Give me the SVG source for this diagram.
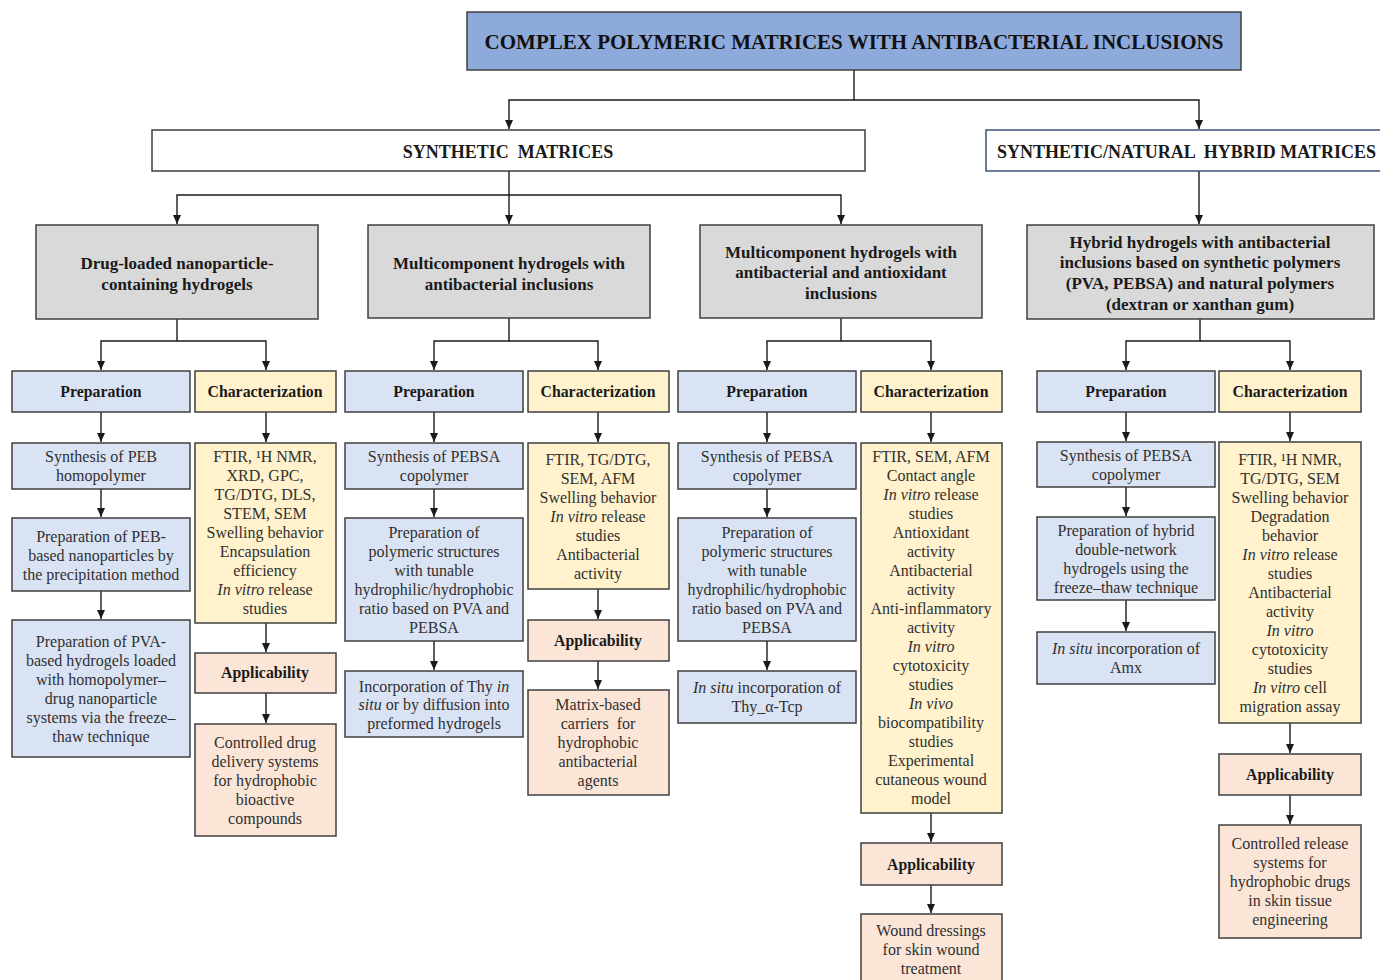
<svg xmlns="http://www.w3.org/2000/svg" width="1380" height="980" viewBox="0 0 1380 980">
<style>
.bx{stroke:#3f3f3f;stroke-width:1.5}
.ti{fill:#8eaadb}
.wh{fill:#ffffff}
.gr{fill:#d9d9d9}
.pr{fill:#dae3f3}
.ch{fill:#fff2cc}
.ap{fill:#fbe5d6}
text{font-family:"Liberation Serif","Times New Roman",serif;text-anchor:middle}
.t{font-size:16px;fill:#303030}
.b{font-size:15.8px;font-weight:bold;fill:#1a1a1a}
.h{font-size:17px;font-weight:bold;fill:#1a1a1a}
.m{font-size:18px;font-weight:bold;fill:#1a1a1a}
.tt{font-size:21px;font-weight:bold;fill:#111}
.i{font-style:italic}
.c{fill:none;stroke:#1a1a1a;stroke-width:1.4}
</style>
<defs>
<marker id="ar" markerUnits="userSpaceOnUse" markerWidth="10" markerHeight="10" refX="9" refY="5" orient="auto">
<path d="M0,1 L9,5 L0,9 z" fill="#1a1a1a"/>
</marker>
</defs>
<rect width="1380" height="980" fill="#ffffff"/>

<g id="connectors">
<path class="c" d="M854,70 V100 H509 V129" marker-end="url(#ar)"/>
<path class="c" d="M854,100 H1199 V129" marker-end="url(#ar)"/>
<path class="c" d="M509,171 V224" marker-end="url(#ar)"/>
<path class="c" d="M509,195 H177 V224" marker-end="url(#ar)"/>
<path class="c" d="M509,195 H841 V224" marker-end="url(#ar)"/>
<path class="c" d="M1199,171 V224" marker-end="url(#ar)"/>

<path class="c" d="M177,319 V341 H101 V370" marker-end="url(#ar)"/>
<path class="c" d="M177,341 H266 V370" marker-end="url(#ar)"/>
<path class="c" d="M509,318 V341 H434 V370" marker-end="url(#ar)"/>
<path class="c" d="M509,341 H598 V370" marker-end="url(#ar)"/>
<path class="c" d="M841,318 V341 H767 V370" marker-end="url(#ar)"/>
<path class="c" d="M841,341 H931 V370" marker-end="url(#ar)"/>
<path class="c" d="M1200,319 V341 H1126 V370" marker-end="url(#ar)"/>
<path class="c" d="M1200,341 H1290 V370" marker-end="url(#ar)"/>

<path class="c" d="M101,412 V442" marker-end="url(#ar)"/>
<path class="c" d="M101,489 V517" marker-end="url(#ar)"/>
<path class="c" d="M101,591 V619" marker-end="url(#ar)"/>
<path class="c" d="M266,412 V442" marker-end="url(#ar)"/>
<path class="c" d="M266,623 V652" marker-end="url(#ar)"/>
<path class="c" d="M266,693 V723" marker-end="url(#ar)"/>

<path class="c" d="M434,412 V442" marker-end="url(#ar)"/>
<path class="c" d="M434,489 V517" marker-end="url(#ar)"/>
<path class="c" d="M434,641 V670" marker-end="url(#ar)"/>
<path class="c" d="M598,412 V442" marker-end="url(#ar)"/>
<path class="c" d="M598,589 V619" marker-end="url(#ar)"/>
<path class="c" d="M598,661 V689" marker-end="url(#ar)"/>

<path class="c" d="M767,412 V442" marker-end="url(#ar)"/>
<path class="c" d="M767,489 V517" marker-end="url(#ar)"/>
<path class="c" d="M767,641 V670" marker-end="url(#ar)"/>
<path class="c" d="M931,412 V442" marker-end="url(#ar)"/>
<path class="c" d="M931,813 V842" marker-end="url(#ar)"/>
<path class="c" d="M931,885 V913" marker-end="url(#ar)"/>

<path class="c" d="M1126,412 V441" marker-end="url(#ar)"/>
<path class="c" d="M1126,487 V516" marker-end="url(#ar)"/>
<path class="c" d="M1126,600 V631" marker-end="url(#ar)"/>
<path class="c" d="M1290,412 V441" marker-end="url(#ar)"/>
<path class="c" d="M1290,723 V753" marker-end="url(#ar)"/>
<path class="c" d="M1290,795 V824" marker-end="url(#ar)"/>
</g>

<g id="title">
<rect class="bx ti" x="467" y="12" width="774" height="58"/>
<text class="tt" x="854" y="49">COMPLEX POLYMERIC MATRICES WITH ANTIBACTERIAL INCLUSIONS</text>
</g>

<g id="synthetic">
<rect class="bx wh" x="152" y="130" width="713" height="41"/>
<text class="m" x="508" y="158" xml:space="preserve">SYNTHETIC  MATRICES</text>
</g>

<g id="hybrid">
<rect class="wh" x="986" y="130" width="400" height="41" stroke="#3d5275" stroke-width="1.5"/>
<text class="m" x="997" y="158" style="text-anchor:start" xml:space="preserve">SYNTHETIC/NATURAL  HYBRID MATRICES</text>
</g>

<g id="cat1">
<rect class="bx gr" x="36" y="225" width="282" height="94"/>
<text class="h" x="177" y="269">Drug-loaded nanoparticle-</text>
<text class="h" x="177" y="290">containing hydrogels</text>
</g>
<g id="cat2">
<rect class="bx gr" x="368" y="225" width="282" height="93"/>
<text class="h" x="509" y="269">Multicomponent hydrogels with</text>
<text class="h" x="509" y="290">antibacterial inclusions</text>
</g>
<g id="cat3">
<rect class="bx gr" x="700" y="225" width="282" height="93"/>
<text class="h" x="841" y="258">Multicomponent hydrogels with</text>
<text class="h" x="841" y="278">antibacterial and antioxidant</text>
<text class="h" x="841" y="299">inclusions</text>
</g>
<g id="cat4">
<rect class="bx gr" x="1027" y="225" width="347" height="94"/>
<text class="h" x="1200" y="248">Hybrid hydrogels with antibacterial</text>
<text class="h" x="1200" y="268">inclusions based on synthetic polymers</text>
<text class="h" x="1200" y="289">(PVA, PEBSA) and natural polymers</text>
<text class="h" x="1200" y="310">(dextran or xanthan gum)</text>
</g>

<!-- Column 1 -->
<g id="prep1">
<rect class="bx pr" x="12" y="371" width="178" height="41"/>
<text class="b" x="101" y="397">Preparation</text>
</g>
<g id="char1">
<rect class="bx ch" x="195" y="371" width="141" height="41"/>
<text class="b" x="265" y="397">Characterization</text>
</g>
<g id="p1a">
<rect class="bx pr" x="12" y="443" width="178" height="46"/>
<text class="t" x="101" y="462">Synthesis of PEB</text>
<text class="t" x="101" y="481">homopolymer</text>
</g>
<g id="p1b">
<rect class="bx pr" x="12" y="518" width="178" height="73"/>
<text class="t" x="101" y="542">Preparation of PEB-</text>
<text class="t" x="101" y="561">based nanoparticles by</text>
<text class="t" x="101" y="580">the precipitation method</text>
</g>
<g id="p1c">
<rect class="bx pr" x="12" y="620" width="178" height="137"/>
<text class="t" x="101" y="647">Preparation of PVA-</text>
<text class="t" x="101" y="666">based hydrogels loaded</text>
<text class="t" x="101" y="685">with homopolymer–</text>
<text class="t" x="101" y="704">drug nanoparticle</text>
<text class="t" x="101" y="723">systems via the freeze–</text>
<text class="t" x="101" y="742">thaw technique</text>
</g>
<g id="c1a">
<rect class="bx ch" x="195" y="443" width="141" height="180"/>
<text class="t" x="265" y="462">FTIR, ¹H NMR,</text>
<text class="t" x="265" y="481">XRD, GPC,</text>
<text class="t" x="265" y="500">TG/DTG, DLS,</text>
<text class="t" x="265" y="519">STEM, SEM</text>
<text class="t" x="265" y="538">Swelling behavior</text>
<text class="t" x="265" y="557">Encapsulation</text>
<text class="t" x="265" y="576">efficiency</text>
<text class="t" x="265" y="595"><tspan class="i">In vitro</tspan> release</text>
<text class="t" x="265" y="614">studies</text>
</g>
<g id="app1">
<rect class="bx ap" x="195" y="653" width="141" height="40"/>
<text class="b" x="265" y="678">Applicability</text>
</g>
<g id="res1">
<rect class="bx ap" x="195" y="724" width="141" height="112"/>
<text class="t" x="265" y="748">Controlled drug</text>
<text class="t" x="265" y="767">delivery systems</text>
<text class="t" x="265" y="786">for hydrophobic</text>
<text class="t" x="265" y="805">bioactive</text>
<text class="t" x="265" y="824">compounds</text>
</g>

<!-- Column 2 -->
<g id="prep2">
<rect class="bx pr" x="345" y="371" width="178" height="41"/>
<text class="b" x="434" y="397">Preparation</text>
</g>
<g id="char2">
<rect class="bx ch" x="528" y="371" width="141" height="41"/>
<text class="b" x="598" y="397">Characterization</text>
</g>
<g id="p2a">
<rect class="bx pr" x="345" y="443" width="178" height="46"/>
<text class="t" x="434" y="462">Synthesis of PEBSA</text>
<text class="t" x="434" y="481">copolymer</text>
</g>
<g id="p2b">
<rect class="bx pr" x="345" y="518" width="178" height="123"/>
<text class="t" x="434" y="538">Preparation of</text>
<text class="t" x="434" y="557">polymeric structures</text>
<text class="t" x="434" y="576">with tunable</text>
<text class="t" x="434" y="595">hydrophilic/hydrophobic</text>
<text class="t" x="434" y="614">ratio based on PVA and</text>
<text class="t" x="434" y="633">PEBSA</text>
</g>
<g id="p2c">
<rect class="bx pr" x="345" y="671" width="178" height="66"/>
<text class="t" x="434" y="692">Incorporation of Thy <tspan class="i">in</tspan></text>
<text class="t" x="434" y="710"><tspan class="i">situ</tspan> or by diffusion into</text>
<text class="t" x="434" y="729">preformed hydrogels</text>
</g>
<g id="c2a">
<rect class="bx ch" x="528" y="443" width="141" height="146"/>
<text class="t" x="598" y="465">FTIR, TG/DTG,</text>
<text class="t" x="598" y="484">SEM, AFM</text>
<text class="t" x="598" y="503">Swelling behavior</text>
<text class="t" x="598" y="522"><tspan class="i">In vitro</tspan> release</text>
<text class="t" x="598" y="541">studies</text>
<text class="t" x="598" y="560">Antibacterial</text>
<text class="t" x="598" y="579">activity</text>
</g>
<g id="app2">
<rect class="bx ap" x="528" y="620" width="141" height="41"/>
<text class="b" x="598" y="646">Applicability</text>
</g>
<g id="res2">
<rect class="bx ap" x="528" y="690" width="141" height="105"/>
<text class="t" x="598" y="710">Matrix-based</text>
<text class="t" x="598" y="729" xml:space="preserve">carriers  for</text>
<text class="t" x="598" y="748">hydrophobic</text>
<text class="t" x="598" y="767">antibacterial</text>
<text class="t" x="598" y="786">agents</text>
</g>

<!-- Column 3 -->
<g id="prep3">
<rect class="bx pr" x="678" y="371" width="178" height="41"/>
<text class="b" x="767" y="397">Preparation</text>
</g>
<g id="char3">
<rect class="bx ch" x="861" y="371" width="141" height="41"/>
<text class="b" x="931" y="397">Characterization</text>
</g>
<g id="p3a">
<rect class="bx pr" x="678" y="443" width="178" height="46"/>
<text class="t" x="767" y="462">Synthesis of PEBSA</text>
<text class="t" x="767" y="481">copolymer</text>
</g>
<g id="p3b">
<rect class="bx pr" x="678" y="518" width="178" height="123"/>
<text class="t" x="767" y="538">Preparation of</text>
<text class="t" x="767" y="557">polymeric structures</text>
<text class="t" x="767" y="576">with tunable</text>
<text class="t" x="767" y="595">hydrophilic/hydrophobic</text>
<text class="t" x="767" y="614">ratio based on PVA and</text>
<text class="t" x="767" y="633">PEBSA</text>
</g>
<g id="p3c">
<rect class="bx pr" x="678" y="671" width="178" height="52"/>
<text class="t" x="767" y="693"><tspan class="i">In situ</tspan> incorporation of</text>
<text class="t" x="767" y="712">Thy_α-Tcp</text>
</g>
<g id="c3a">
<rect class="bx ch" x="861" y="443" width="141" height="370"/>
<text class="t" x="931" y="462">FTIR, SEM, AFM</text>
<text class="t" x="931" y="481">Contact angle</text>
<text class="t" x="931" y="500"><tspan class="i">In vitro</tspan> release</text>
<text class="t" x="931" y="519">studies</text>
<text class="t" x="931" y="538">Antioxidant</text>
<text class="t" x="931" y="557">activity</text>
<text class="t" x="931" y="576">Antibacterial</text>
<text class="t" x="931" y="595">activity</text>
<text class="t" x="931" y="614">Anti-inflammatory</text>
<text class="t" x="931" y="633">activity</text>
<text class="t i" x="931" y="652">In vitro</text>
<text class="t" x="931" y="671">cytotoxicity</text>
<text class="t" x="931" y="690">studies</text>
<text class="t i" x="931" y="709">In vivo</text>
<text class="t" x="931" y="728">biocompatibility</text>
<text class="t" x="931" y="747">studies</text>
<text class="t" x="931" y="766">Experimental</text>
<text class="t" x="931" y="785">cutaneous wound</text>
<text class="t" x="931" y="804">model</text>
</g>
<g id="app3">
<rect class="bx ap" x="861" y="843" width="141" height="42"/>
<text class="b" x="931" y="870">Applicability</text>
</g>
<g id="res3">
<rect class="bx ap" x="861" y="914" width="141" height="80"/>
<text class="t" x="931" y="936">Wound dressings</text>
<text class="t" x="931" y="955">for skin wound</text>
<text class="t" x="931" y="974">treatment</text>
</g>

<!-- Column 4 -->
<g id="prep4">
<rect class="bx pr" x="1037" y="371" width="178" height="41"/>
<text class="b" x="1126" y="397">Preparation</text>
</g>
<g id="char4">
<rect class="bx ch" x="1219" y="371" width="142" height="41"/>
<text class="b" x="1290" y="397">Characterization</text>
</g>
<g id="p4a">
<rect class="bx pr" x="1037" y="442" width="178" height="45"/>
<text class="t" x="1126" y="461">Synthesis of PEBSA</text>
<text class="t" x="1126" y="480">copolymer</text>
</g>
<g id="p4b">
<rect class="bx pr" x="1037" y="517" width="178" height="83"/>
<text class="t" x="1126" y="536">Preparation of hybrid</text>
<text class="t" x="1126" y="555">double-network</text>
<text class="t" x="1126" y="574">hydrogels using the</text>
<text class="t" x="1126" y="593">freeze–thaw technique</text>
</g>
<g id="p4c">
<rect class="bx pr" x="1037" y="632" width="178" height="52"/>
<text class="t" x="1126" y="654"><tspan class="i">In situ</tspan> incorporation of</text>
<text class="t" x="1126" y="673">Amx</text>
</g>
<g id="c4a">
<rect class="bx ch" x="1219" y="442" width="142" height="281"/>
<text class="t" x="1290" y="465">FTIR, ¹H NMR,</text>
<text class="t" x="1290" y="484">TG/DTG, SEM</text>
<text class="t" x="1290" y="503">Swelling behavior</text>
<text class="t" x="1290" y="522">Degradation</text>
<text class="t" x="1290" y="541">behavior</text>
<text class="t" x="1290" y="560"><tspan class="i">In vitro</tspan> release</text>
<text class="t" x="1290" y="579">studies</text>
<text class="t" x="1290" y="598">Antibacterial</text>
<text class="t" x="1290" y="617">activity</text>
<text class="t i" x="1290" y="636">In vitro</text>
<text class="t" x="1290" y="655">cytotoxicity</text>
<text class="t" x="1290" y="674">studies</text>
<text class="t" x="1290" y="693"><tspan class="i">In vitro</tspan> cell</text>
<text class="t" x="1290" y="712">migration assay</text>
</g>
<g id="app4">
<rect class="bx ap" x="1219" y="754" width="142" height="41"/>
<text class="b" x="1290" y="780">Applicability</text>
</g>
<g id="res4">
<rect class="bx ap" x="1219" y="825" width="142" height="113"/>
<text class="t" x="1290" y="849">Controlled release</text>
<text class="t" x="1290" y="868">systems for</text>
<text class="t" x="1290" y="887">hydrophobic drugs</text>
<text class="t" x="1290" y="906">in skin tissue</text>
<text class="t" x="1290" y="925">engineering</text>
</g>
</svg>
